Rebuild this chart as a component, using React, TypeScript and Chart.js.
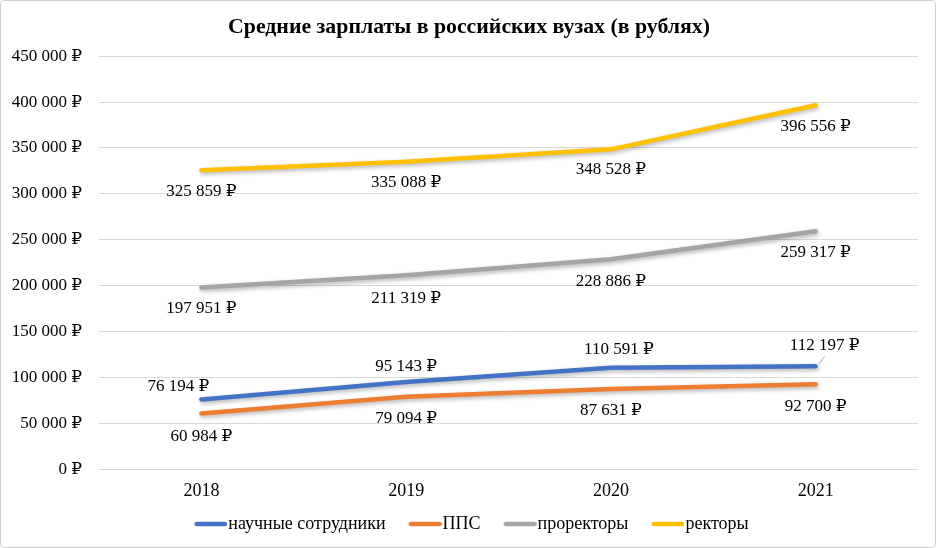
import React, { useEffect, useRef } from "react";
import { Chart, registerables } from "chart.js";

Chart.register(...registerables);

const years = ["2018", "2019", "2020", "2021"];
const seriesNames = ["научные сотрудники", "ППС", "проректоры", "ректоры"];
const researchers = [76194, 95143, 110591, 112197];
const teachers = [60984, 79094, 87631, 92700];
const viceRectors = [197951, 211319, 228886, 259317];
const rectors = [325859, 335088, 348528, 396556];
const yMin = 0;
const yMax = 450000;
const yStep = 50000;

const colors = ["#4472C4", "#ED7D31", "#A5A5A5", "#FFC000"];
// label offsets (dx, dy) relative to each point, per series
const labelOffsets = [
  [[-23, -13], [0, -15], [8, -18], [9, -21]],
  [[0, 23], [0, 22], [0, 22], [0, 22]],
  [[0, 21], [0, 23], [0, 22], [0, 21]],
  [[0, 21], [0, 21], [0, 20], [0, 21]],
];
const leaderLines = [[false, false, false, true], [false, false, false, false], [false, false, false, false], [false, false, false, false]];

const FONT = "'Liberation Serif', 'Times New Roman', 'DejaVu Serif', serif";

const fmt = (v: number) =>
  String(Math.round(v)).replace(/\B(?=(\d{3})+(?!\d))/g, "\u00a0") + "\u00a0₽";

function legendImage(color: string) {
  const c = document.createElement("canvas");
  c.width = 62;
  c.height = 8;
  const ctx = c.getContext("2d")!;
  ctx.strokeStyle = color;
  ctx.lineWidth = 4.5;
  ctx.lineCap = "round";
  ctx.beginPath();
  ctx.moveTo(31.25, 4);
  ctx.lineTo(59.75, 4);
  ctx.stroke();
  return c;
}

const shadowPlugin = {
  id: "lineShadow",
  beforeDatasetsDraw(chart: any) {
    const ctx = chart.ctx;
    ctx.save();
    ctx.shadowColor = "rgba(0,0,0,0.3)";
    ctx.shadowBlur = 4;
    ctx.shadowOffsetX = 1;
    ctx.shadowOffsetY = 2;
  },
  afterDatasetsDraw(chart: any) {
    chart.ctx.restore();
  },
};

const boxShiftPlugin = {
  id: "boxShift",
  afterLayout(chart: any) {
    if (chart.legend) {
      chart.legend.left += 2;
      chart.legend.right += 2;
    }
    if (chart.titleBlock) {
      chart.titleBlock.left += 10;
      chart.titleBlock.right += 10;
    }
  },
};

const dataLabelPlugin = {
  id: "dataLabels",
  afterDatasetsDraw(chart: any) {
    const ctx = chart.ctx;
    ctx.save();
    ctx.font = `17px ${FONT}`;
    ctx.fillStyle = "#000";
    ctx.textAlign = "center";
    ctx.textBaseline = "middle";
    chart.data.datasets.forEach((ds: any, di: number) => {
      const meta = chart.getDatasetMeta(di);
      meta.data.forEach((pt: any, i: number) => {
        const [dx, dy] = labelOffsets[di][i];
        if (leaderLines[di][i]) {
          ctx.save();
          ctx.strokeStyle = "#A6A6A6";
          ctx.lineWidth = 1;
          ctx.beginPath();
          ctx.moveTo(pt.x + 3, pt.y - 2);
          ctx.lineTo(pt.x + 9, pt.y - 10);
          ctx.stroke();
          ctx.restore();
        }
        ctx.fillText(fmt(ds.data[i]), pt.x + dx, pt.y + dy);
      });
    });
    ctx.restore();
  },
};

export default function App() {
  const ref = useRef<HTMLCanvasElement>(null);
  useEffect(() => {
    if (!ref.current) return;
    const seriesData = [researchers, teachers, viceRectors, rectors];
    const chart = new Chart(ref.current, {
      type: "line",
      data: {
        labels: years,
        datasets: seriesData.map((d, i) => ({
          label: seriesNames[i],
          data: d,
          borderColor: colors[i],
          backgroundColor: colors[i],
          borderWidth: 4.5,
          borderCapStyle: "round" as const,
          borderJoinStyle: "round" as const,
          pointRadius: 0,
          pointHoverRadius: 0,
          pointStyle: legendImage(colors[i]) as any,
          tension: 0,
          fill: false,
        })),
      },
      options: {
        animation: false,
        responsive: false,
        maintainAspectRatio: false,
        events: [],
        layout: { padding: { left: 0, right: 18, top: 0, bottom: 5 } },
        plugins: {
          title: {
            display: true,
            text: "Средние зарплаты в российских вузах (в рублях)",
            color: "#000",
            font: { family: FONT, size: 21.8, weight: "bold" },
            padding: { top: 14, bottom: 16 },
          },
          legend: {
            position: "bottom",
            labels: {
              usePointStyle: true,
              pointStyleWidth: 46,
              padding: 2,
              color: "#000",
              font: { family: FONT, size: 18 },
            },
          },
          tooltip: { enabled: false },
        },
        scales: {
          x: {
            offset: true,
            grid: { display: false, drawTicks: false },
            border: { display: false },
            ticks: { color: "#000", padding: 11, font: { family: FONT, size: 18 } },
          },
          y: {
            min: yMin,
            max: yMax,
            afterFit: (scale: any) => {
              scale.width = 99;
            },
            grid: { color: "#D9D9D9", drawTicks: false, lineWidth: 1 },
            border: { display: false },
            ticks: {
              stepSize: yStep,
              color: "#000",
              padding: 17,
              font: { family: FONT, size: 17 },
              callback: (v: any) => fmt(Number(v)),
            },
          },
        },
      },
      plugins: [shadowPlugin, dataLabelPlugin, boxShiftPlugin],
    });
    return () => chart.destroy();
  }, []);

  return (
    <div style={{ position: "fixed", left: 0, top: 0, width: 936, height: 548, background: "#fff" }}>
      <canvas ref={ref} width={936} height={548} style={{ width: 936, height: 548, display: "block" }} />
      <div
        style={{
          position: "absolute",
          left: 0,
          top: 0,
          width: 934,
          height: 546,
          border: "1px solid #D0D0D0",
          borderRadius: 4,
          pointerEvents: "none",
        }}
      />
    </div>
  );
}
